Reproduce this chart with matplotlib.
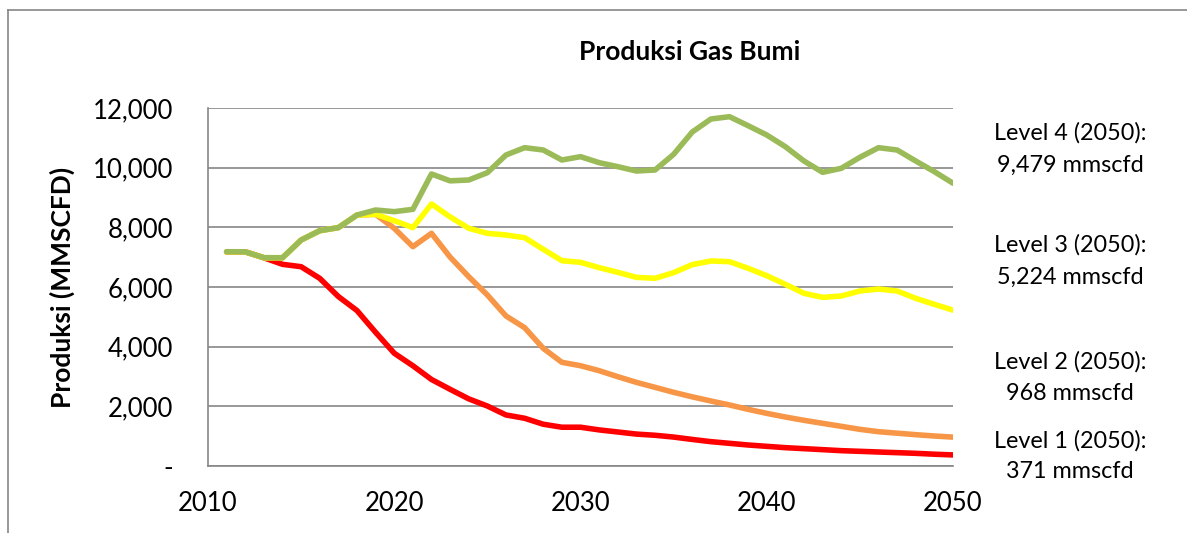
import matplotlib.pyplot as plt
from matplotlib.lines import Line2D
from matplotlib.ticker import FixedLocator, FixedFormatter

# production data (mmscfd)
years = list(range(2011, 2051))

level1 = [7180, 7180, 6980, 6760, 6680, 6290, 5680, 5210, 4480, 3780,
          3360, 2900, 2570, 2250, 2010, 1710, 1600, 1400, 1300, 1300,
          1210, 1140, 1070, 1030, 970, 890, 816, 760, 704, 659,
          615, 581, 548, 514, 492, 469, 447, 425, 395, 371]

level2 = [7180, 7180, 6980, 6980, 7575, 7888, 7990, 8413, 8436, 7967,
          7352, 7799, 7000, 6346, 5732, 5028, 4637, 3944, 3475, 3362,
          3195, 2994, 2804, 2637, 2470, 2318, 2179, 2045, 1899, 1765,
          1642, 1531, 1430, 1330, 1229, 1150, 1100, 1050, 1005, 968]

level3 = [7180, 7180, 6980, 6980, 7575, 7888, 7990, 8413, 8436, 8223,
          7990, 8782, 8350, 7967, 7799, 7743, 7653, 7263, 6883, 6827,
          6648, 6492, 6324, 6291, 6481, 6750, 6872, 6849, 6626, 6380,
          6089, 5788, 5653, 5698, 5866, 5933, 5866, 5620, 5419, 5224]

level4 = [7183, 7180, 6983, 6980, 7575, 7888, 7990, 8413, 8581, 8525,
          8604, 9788, 9558, 9587, 9832, 10425, 10670, 10592, 10257, 10369,
          10168, 10034, 9888, 9922, 10447, 11195, 11631, 11709, 11407, 11095,
          10703, 10223, 9844, 9978, 10347, 10670, 10592, 10223, 9866, 9479]

y_ticks = [0, 2000, 4000, 6000, 8000, 10000, 12000]
y_tick_labels = ['-', '2,000', '4,000', '6,000', '8,000', '10,000', '12,000']
x_ticks = [2010, 2020, 2030, 2040, 2050]

notes = [('Level 4 (2050):', '9,479 mmscfd'),
         ('Level 3 (2050):', '5,224 mmscfd'),
         ('Level 2 (2050):', '968 mmscfd'),
         ('Level 1 (2050):', '371 mmscfd')]

plt.rcParams['font.family'] = ['Lato', 'DejaVu Sans']

W, H = 1187, 533
fig = plt.figure(figsize=(W / 100, H / 100), dpi=100)
ax = fig.add_axes([208 / W, 1 - 466 / H, (953 - 208) / W, (466 - 108) / H])

grid_col = '#868686'

# series, drawn bottom to top like the original
ax.plot(years, level1, color='#FF0000', lw=4, solid_capstyle='round', zorder=3)
ax.plot(years, level2, color='#F79646', lw=4, solid_capstyle='round', zorder=4)
ax.plot(years, level3, color='#FFFF00', lw=4, solid_capstyle='round', zorder=5)
ax.plot(years, level4, color='#9BBB59', lw=4, solid_capstyle='round', zorder=6)

ax.set_xlim(2010, 2050)
ax.set_ylim(0, 12000)
ax.yaxis.set_major_locator(FixedLocator(y_ticks))
ax.yaxis.set_major_formatter(FixedFormatter(y_tick_labels))
ax.set_xticks(x_ticks)
ax.set_xticklabels([str(x) for x in x_ticks])
ax.tick_params(axis='both', length=0, labelsize=18.5, colors='black')
ax.tick_params(axis='y', pad=25)
ax.tick_params(axis='x', pad=18)

ax.grid(axis='y', color=grid_col, lw=1.2, zorder=1)
ax.set_axisbelow(True)
for side in ['top', 'right']:
    ax.spines[side].set_visible(False)
ax.spines['left'].set_color(grid_col)
ax.spines['bottom'].set_color(grid_col)
ax.spines['left'].set_linewidth(1.2)
ax.spines['bottom'].set_linewidth(1.2)

ax.set_ylabel('Produksi (MMSCFD)', fontsize=19, fontweight='bold')
ax.yaxis.set_label_coords((75 - 208) / (953 - 208), 0.5)

fig.text(690 / W, 1 - 52 / H, 'Produksi Gas Bumi', fontsize=19, fontweight='bold',
         ha='center', va='center')

# annotations on the right
note_y = [(133, 165), (245, 277), (362, 393), (441, 472)]
for (l1, l2), (y1, y2) in zip(notes, note_y):
    fig.text(1070 / W, 1 - y1 / H, l1, fontsize=16.8, ha='center', va='center')
    fig.text(1070 / W, 1 - y2 / H, l2, fontsize=16.8, ha='center', va='center')

# chart area border (top and left visible)
fig.add_artist(Line2D([8 / W, 8 / W], [0, 1 - 10 / H], color=grid_col, lw=1.2,
                      transform=fig.transFigure))
fig.add_artist(Line2D([8 / W, 1], [1 - 10 / H, 1 - 10 / H], color=grid_col, lw=1.2,
                      transform=fig.transFigure))

fig.savefig('out.png', dpi=100)
